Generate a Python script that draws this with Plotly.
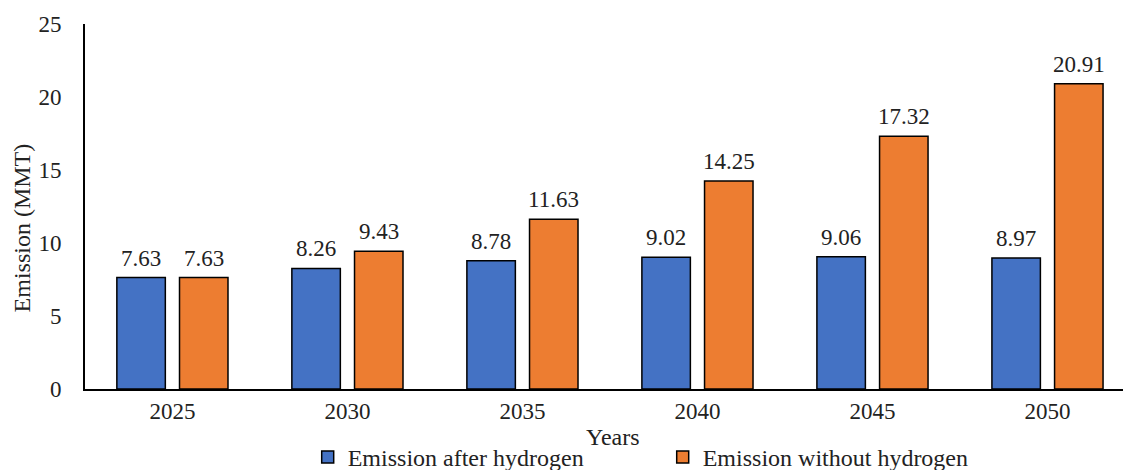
import plotly.graph_objects as go

years = ["2025", "2030", "2035", "2040", "2045", "2050"]
after_h2 = [7.63, 8.26, 8.78, 9.02, 9.06, 8.97]
without_h2 = [7.63, 9.43, 11.63, 14.25, 17.32, 20.91]
y_ticks = [0, 5, 10, 15, 20, 25]

FONT = "'Liberation Serif', 'Times New Roman', serif"
BW = 0.277
xs = list(range(len(years)))

fig = go.Figure()
fig.add_trace(go.Bar(x=xs, y=after_h2, name="Emission after hydrogen",
                     width=BW, offset=-0.318,
                     marker=dict(color="#4472C4", line=dict(color="#000000", width=1.5))))
fig.add_trace(go.Bar(x=xs, y=without_h2, name="Emission without hydrogen",
                     width=BW, offset=0.04,
                     marker=dict(color="#ED7D31", line=dict(color="#000000", width=1.5))))

for i in xs:
    fig.add_annotation(x=i - 0.318 + BW / 2, y=after_h2[i], text=f"{after_h2[i]:.2f}",
                       showarrow=False, yanchor="bottom", yshift=5,
                       font=dict(family=FONT, size=23, color="#222222"))
    fig.add_annotation(x=i + 0.04 + BW / 2, y=without_h2[i], text=f"{without_h2[i]:.2f}",
                       showarrow=False, yanchor="bottom", yshift=5,
                       font=dict(family=FONT, size=23, color="#222222"))

# axis titles (Excel-style placement)
fig.add_annotation(text="Emission (MMT)", xref="paper", yref="paper", x=0, y=0.44,
                   xshift=-63, xanchor="center", yanchor="middle", textangle=-90,
                   showarrow=False, font=dict(family=FONT, size=24, color="#222222"))
fig.add_annotation(text="Years", xref="paper", yref="paper", x=0.509, y=0,
                   yshift=-48, xanchor="center", yanchor="middle",
                   showarrow=False, font=dict(family=FONT, size=24, color="#222222"))

fig.update_layout(
    width=1123, height=470,
    margin=dict(l=85, r=0, t=24, b=81, autoexpand=False),
    plot_bgcolor="white", paper_bgcolor="white",
    barmode="overlay",
    font=dict(family=FONT, size=22, color="#222222"),
    showlegend=True,
    legend=dict(orientation="h", x=0.274, y=0.027, xref="container", yref="container",
                xanchor="left", yanchor="middle",
                font=dict(family=FONT, size=24, color="#222222"),
                itemwidth=30, entrywidth=310, entrywidthmode="pixels"),
    xaxis=dict(tickmode="array", tickvals=xs, ticktext=years, automargin=False,
               range=[-0.5, 5.431], showline=True, linecolor="#000000", linewidth=2,
               showgrid=False, zeroline=False, ticks="",
               tickfont=dict(family=FONT, size=23, color="#222222")),
    yaxis=dict(range=[0, 25], tickvals=y_ticks, showline=True, linecolor="#000000",
               linewidth=2, showgrid=False, zeroline=False, ticks="", automargin=False,
               ticklabelstandoff=17,
               tickfont=dict(family=FONT, size=23, color="#222222")),
)

fig.write_html("out.html", config={"displayModeBar": False},
               post_script="document.body.style.margin='0';")
